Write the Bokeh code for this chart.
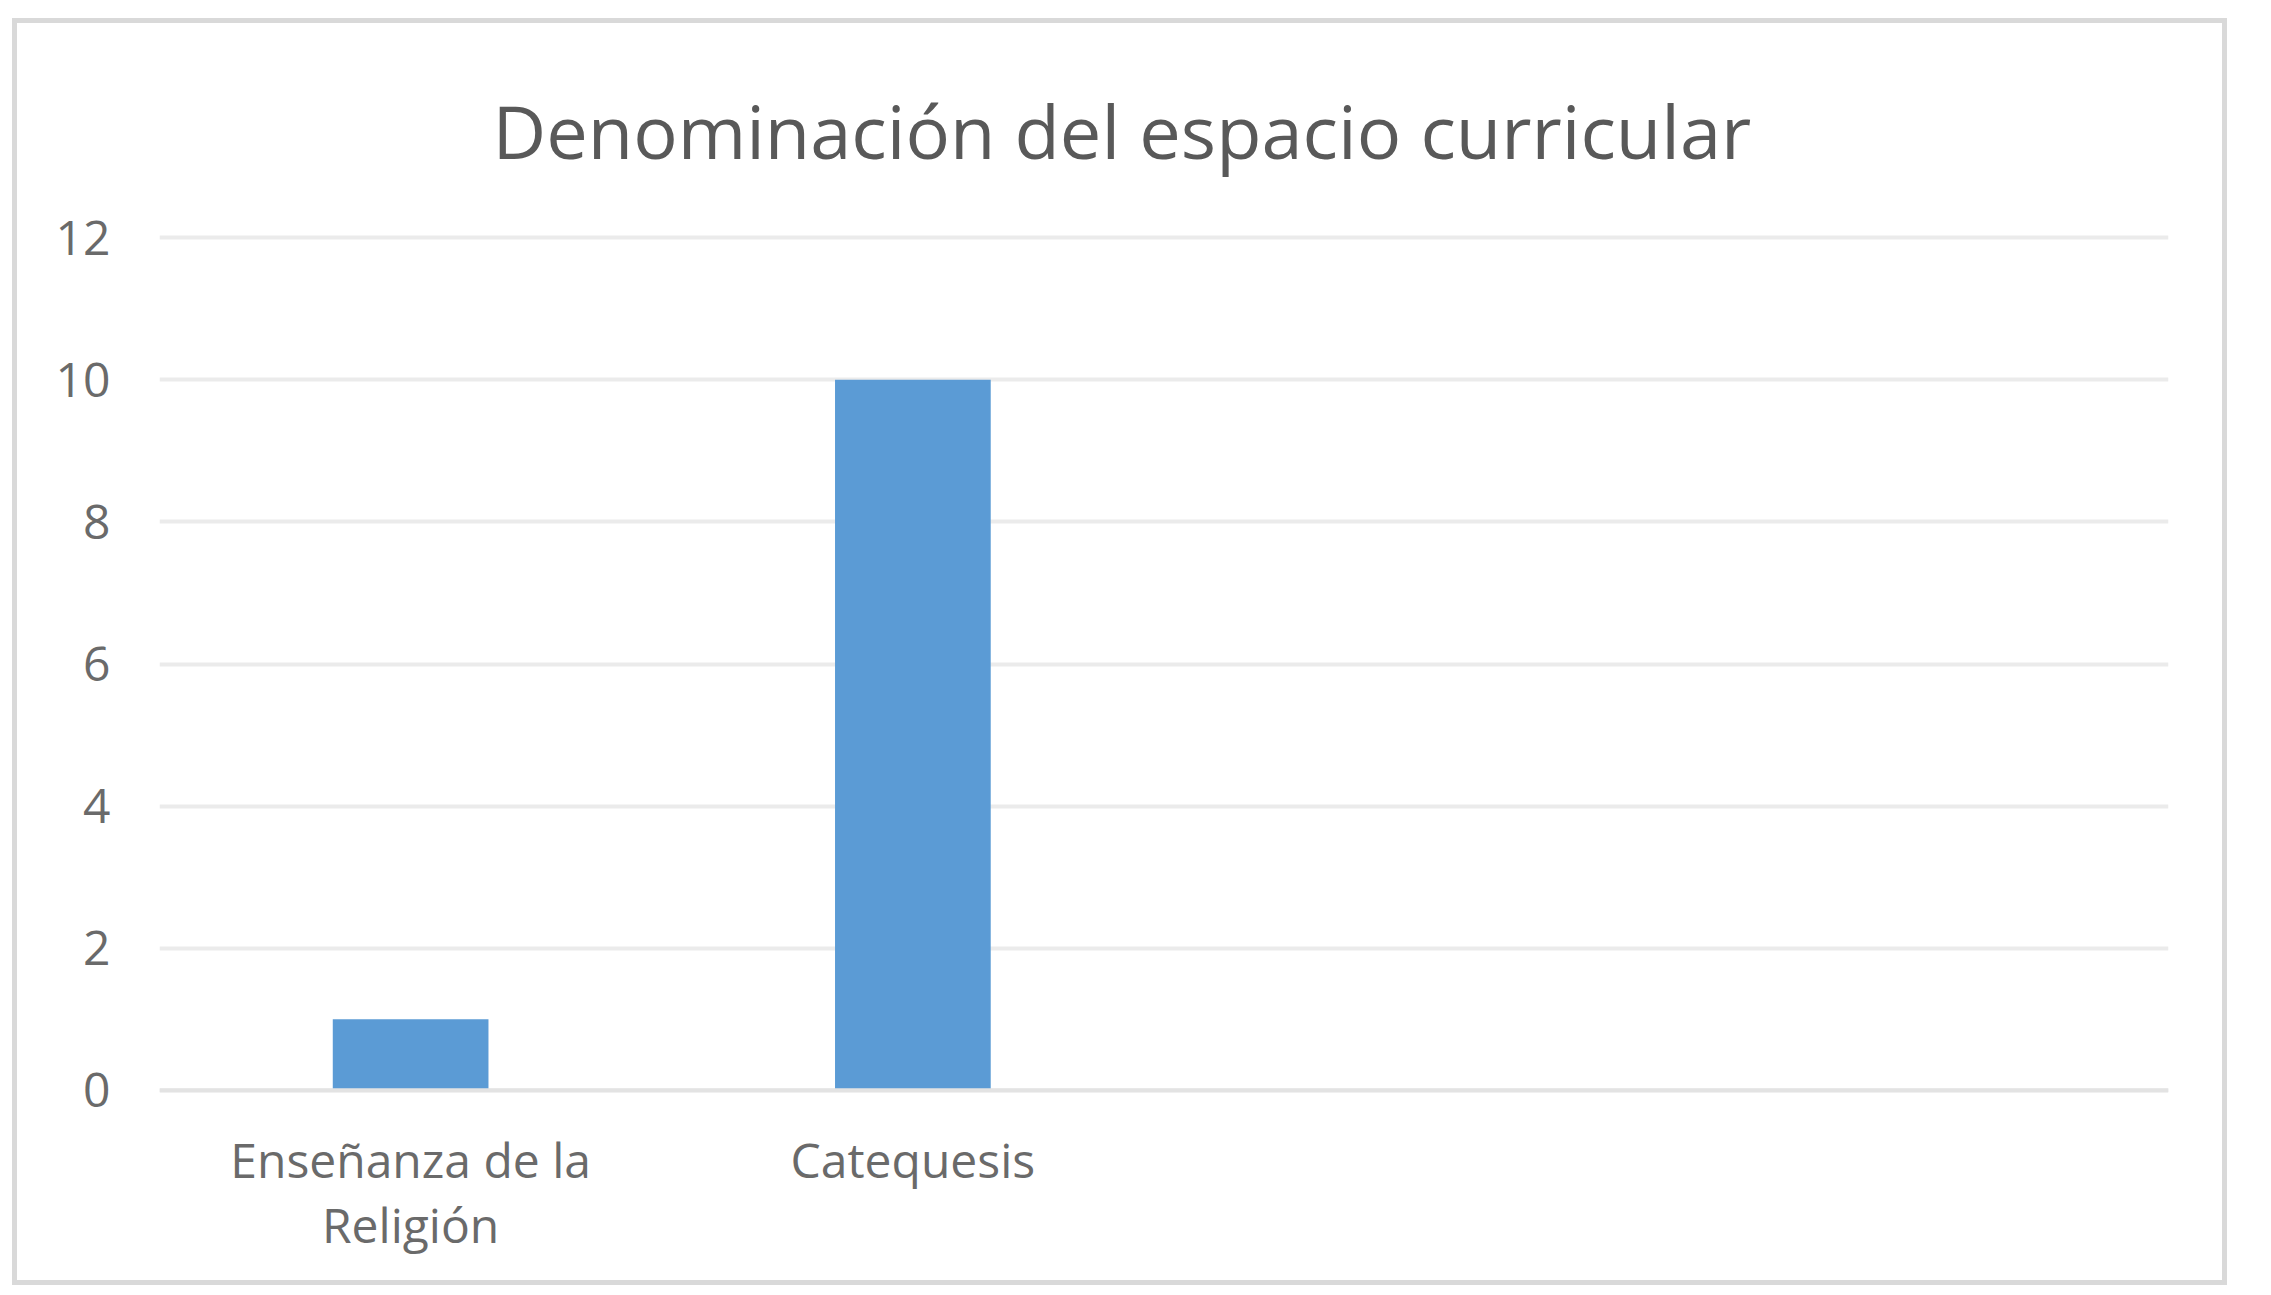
from bokeh.plotting import figure
from bokeh.models import Range1d, FactorRange, Span, FixedTicker, ColumnDataSource
from bokeh.embed import file_html
from bokeh.resources import INLINE

title_text = "Denominación del espacio curricular"
categories = ["Enseñanza de la\nReligión", "Catequesis", " ", "  "]
values = [1, 10, float("nan"), float("nan")]
y_ticks = [0, 2, 4, 6, 8, 10, 12]

W, H = 2215, 1267
FONT = "Open Sans"
TXT = "#6a6a6a"

src = ColumnDataSource(dict(cat=categories, val=values))

p = figure(width=W, height=H, x_range=FactorRange(*categories),
           y_range=Range1d(-0.06, 12.06),
           output_backend="svg", toolbar_location=None,
           min_border_left=142, min_border_right=64,
           min_border_top=210, min_border_bottom=196,
           background_fill_color="white", border_fill_color="white")
p.outline_line_color = None
p.styles = {"border": "5px solid #d9d9d9", "margin-left": "12px", "margin-top": "18px"}

p.vbar(x="cat", top="val", bottom=0, width=0.31, source=src,
       fill_color="#5b9bd5", line_color=None)

p.title.text = title_text
p.title.text_font = FONT
p.title.text_font_size = "74px"
p.title.text_font_style = "normal"
p.title.text_color = "#595959"
p.title.align = "left"
p.title.offset = 333
p.title.standoff = 105

ticker = FixedTicker(ticks=y_ticks)
p.yaxis.ticker = ticker
p.ygrid.ticker = ticker
p.xgrid.visible = False
p.ygrid.grid_line_color = "#ebebeb"
p.ygrid.grid_line_width = 4

p.add_layout(Span(location=0, dimension="width", line_color="#e3e3e3", line_width=4))

for ax in (p.xaxis, p.yaxis):
    ax.axis_line_color = None
    ax.major_tick_line_color = None
    ax.minor_tick_line_color = None
    ax.major_label_text_font = FONT
    ax.major_label_text_font_size = "48px"
    ax.major_label_text_color = TXT

p.yaxis.major_label_standoff = 43
p.xaxis.major_label_standoff = 26
p.xaxis.major_label_text_line_height = 1.0

open("out.html", "w").write(file_html(p, INLINE))
